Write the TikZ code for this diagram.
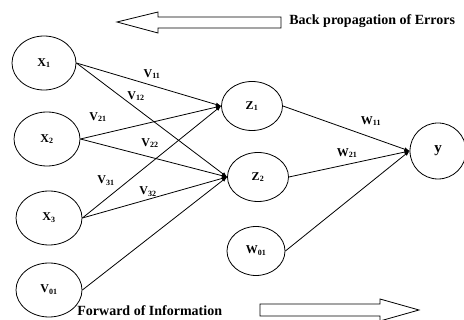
\documentclass[tikz,border=0pt]{standalone}
\usepackage{fontspec}
\setmainfont{Liberation Serif}
\usetikzlibrary{shapes.geometric}
\begin{document}
\begin{tikzpicture}[x=1pt, y=-1pt,
	>=latex, line width=0.8pt,
  unit/.style    = {draw, ellipse, inner sep=0pt, minimum width=66pt, minimum height=54pt, font=\fontsize{12}{14}\selectfont\bfseries},
  hidden/.style  = {unit, minimum width=61pt, minimum height=49pt},
  output/.style  = {unit, minimum width=56pt, minimum height=56pt, font=\fontsize{15}{17}\selectfont\bfseries},
  weight/.style  = {inner sep=1pt, font=\fontsize{12}{14}\selectfont\bfseries},
  note/.style    = {anchor=west, inner sep=0pt, font=\fontsize{14}{16}\selectfont\bfseries}]

	\useasboundingbox (0,0) rectangle (464,320);

	% input layer
	\node[unit, minimum width=64pt] (x1) at (44,63) {X\textsubscript{1}};
	\node[unit] (x2) at (47,139) {X\textsubscript{2}};
	\node[unit] (x3) at (49,218) {X\textsubscript{3}};
	\node[unit] (v01) at (49,290) {V\textsubscript{01}};

	% hidden layer and its bias
	\node[hidden] (z1) at (252,106) {Z\textsubscript{1}};
	\node[hidden] (z2) at (258,177) {Z\textsubscript{2}};
	\node[hidden, minimum width=58pt] (w01) at (256,251) {W\textsubscript{01}};

	% output
	\node[output] (y) at (438,151) {y};

	% weights from every input to every hidden unit
	\foreach \from in {x1,x2,x3}
	  \foreach \to in {z1,z2}
	    \draw[->] (\from.east) -- (\to.west);
	\draw[->] (v01.east) -- (z2.west);

	% weights to the output
	\foreach \from in {z1,z2,w01}
	  \draw[->] (\from.east) -- (y.west);

	% weight labels
	\node[weight] (v11) at (152,74) {V\textsubscript{11}};
	\node[weight] (v12) at (136,96) {V\textsubscript{12}};
	\node[weight] (v21) at (98,117) {V\textsubscript{21}};
	\node[weight] (v22) at (150,143) {V\textsubscript{22}};
	\node[weight] (v31) at (106,181) {V\textsubscript{31}};
	\node[weight] (v32) at (148,192) {V\textsubscript{32}};
	\node[weight] (w11) at (371,121) {W\textsubscript{11}};
	\node[weight] (w21) at (347,153) {W\textsubscript{21}};

	% direction arrows and their captions
	\draw (117,22) -- (158,12) -- (158,17) -- (281,17) -- (281,28) -- (158,28) -- (158,33) -- cycle;
	\node[note] (back) at (289,21) {Back propagation of Errors};
	\draw (419,310) -- (380,299) -- (380,304) -- (260,304) -- (260,316) -- (380,316) -- (380,321) -- cycle;
	\node[note] (forward) at (77,311) {Forward of Information};
\end{tikzpicture}
\end{document}
